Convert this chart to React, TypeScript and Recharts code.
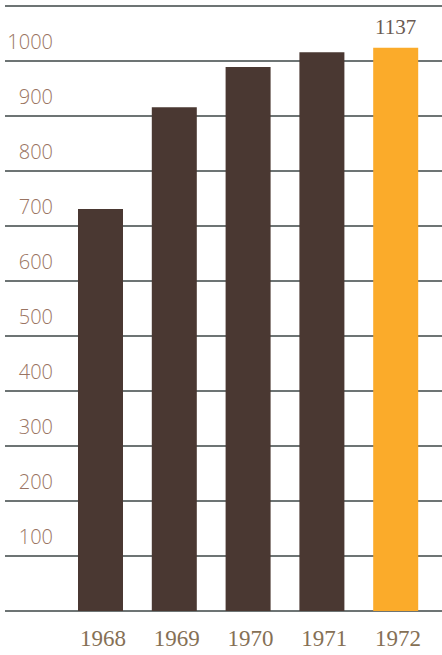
import { BarChart, Bar, XAxis, YAxis, CartesianGrid, Cell, LabelList } from 'recharts'

const years = ['1968', '1969', '1970', '1971', '1972']
const values = [731, 916, 989, 1016, 1024]
const topLabels = ['', '', '', '', '1137']
const barColors = ['#4a3832', '#4a3832', '#4a3832', '#4a3832', '#fbab2a']
const yTicks = [0, 100, 200, 300, 400, 500, 600, 700, 800, 900, 1000, 1100]
const yLabelTicks = [100, 200, 300, 400, 500, 600, 700, 800, 900, 1000]

const data = years.map((year, i) => ({
  year,
  value: values[i],
  label: topLabels[i],
}))

function YTick(props: any) {
  const { x, y, payload } = props
  if (!yLabelTicks.includes(payload.value)) return null
  return (
    <text
      x={x + 48}
      y={y - 12}
      textAnchor="end"
      fill="#9a7462"
      fontSize={20}
      fontWeight={300}
      fontFamily="'Open Sans', sans-serif"
    >
      {payload.value}
    </text>
  )
}

function XTick(props: any) {
  const { x, y, payload } = props
  return (
    <text
      x={x + 2}
      y={y + 35}
      textAnchor="middle"
      fill="#857055"
      fontSize={23}
      fontFamily="'Liberation Serif', serif"
    >
      {payload.value}
    </text>
  )
}

export default function App() {
  return (
    <div style={{ position: 'absolute', left: 0, top: 0, width: 442, height: 655, background: '#fff' }}>
      <BarChart
        width={442}
        height={655}
        data={data}
        margin={{ top: 6, right: 0, bottom: 0, left: 4 }}
        barSize={45}
      >
        <CartesianGrid horizontal vertical={false} stroke="#3c4646" strokeWidth={1.6} />
        <XAxis
          dataKey="year"
          axisLine={false}
          tickLine={false}
          tickSize={0}
          tickMargin={0}
          height={44}
          padding={{ left: 59, right: 9 }}
          tick={<XTick />}
          interval={0}
        />
        <YAxis
          width={1}
          domain={[0, 1100]}
          ticks={yTicks}
          axisLine={false}
          tickLine={false}
          tickSize={0}
          tickMargin={0}
          tick={<YTick />}
          interval={0}
        />
        <Bar dataKey="value" isAnimationActive={false}>
          {data.map((d, i) => (
            <Cell key={d.year} fill={barColors[i]} />
          ))}
          <LabelList
            dataKey="label"
            position="top"
            offset={14}
            fill="#6a5a52"
            fontSize={21}
            fontFamily="'Liberation Serif', serif"
          />
        </Bar>
      </BarChart>
    </div>
  )
}
